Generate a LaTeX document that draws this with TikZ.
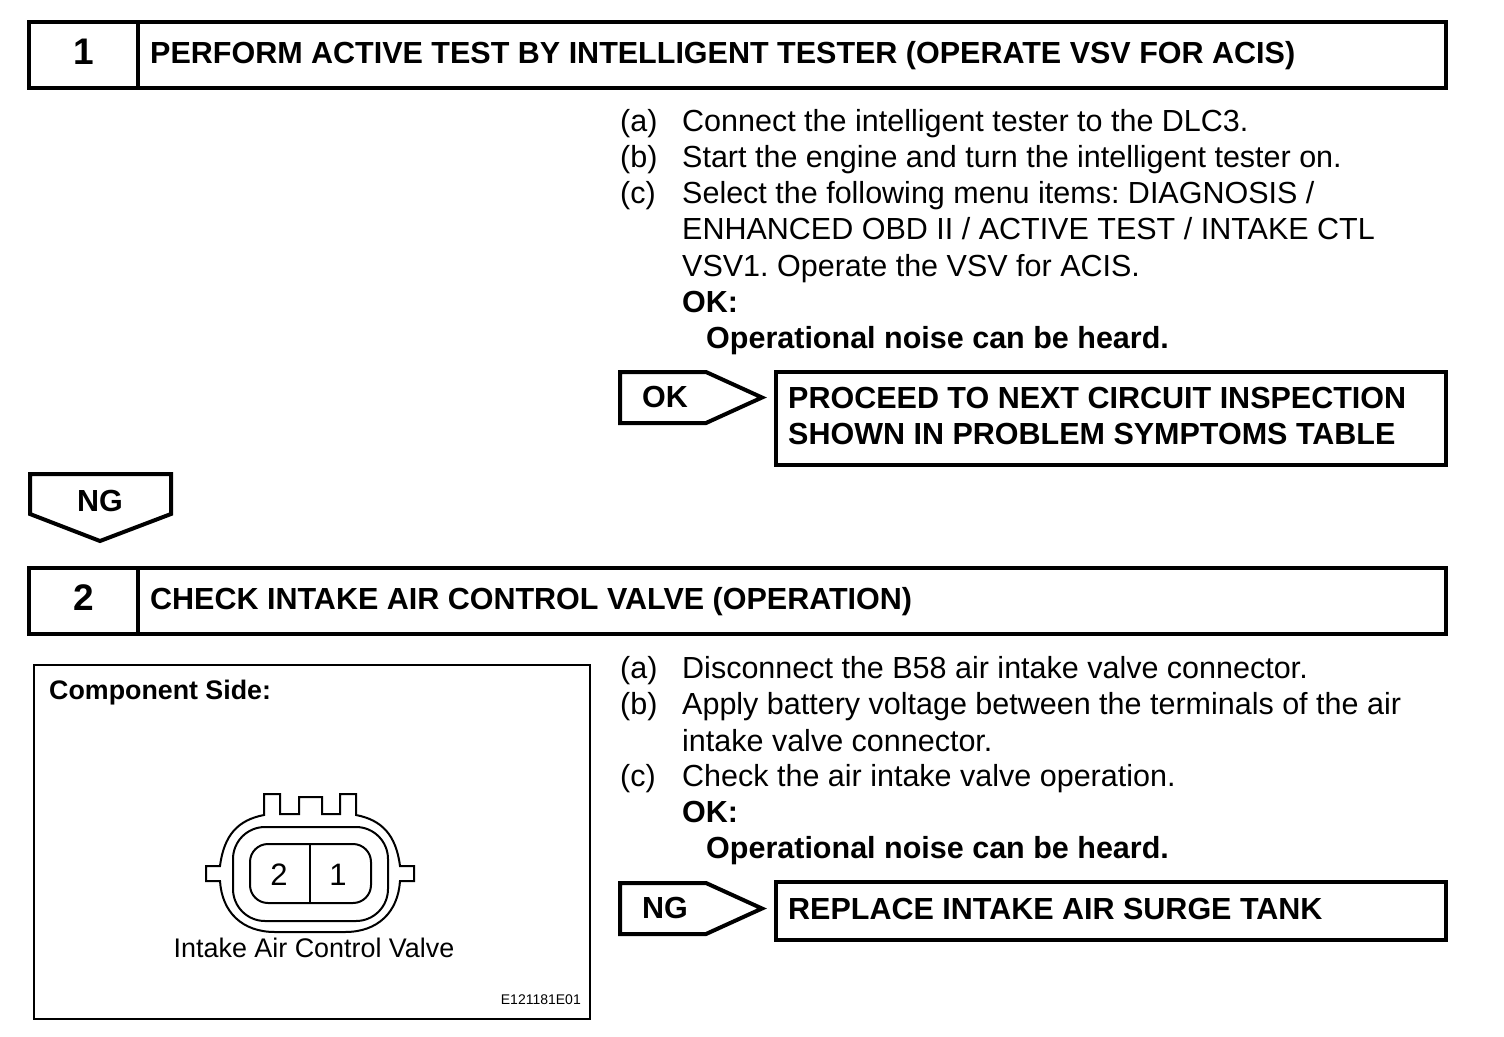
\documentclass[tikz,border=0pt]{standalone}
\usepackage{fontspec}
\setmainfont{Liberation Sans}
\frenchspacing
\usetikzlibrary{positioning,calc}
\begin{document}
\begin{tikzpicture}[x=1pt,y=-1pt,
  hdr/.style={draw,line width=4pt,minimum height=66pt,inner sep=0pt,anchor=north west},
  numtxt/.style={anchor=base,inner sep=0pt,font=\fontsize{37}{40}\selectfont\bfseries},
  headtxt/.style={anchor=base west,inner sep=0pt,align=left,font=\fontsize{30.5}{36}\selectfont\bfseries},
  bodytxt/.style={anchor=base west,inner sep=0pt,font=\fontsize{30.5}{36}\selectfont},
  boldtxt/.style={anchor=base west,inner sep=0pt,font=\fontsize{30.5}{36}\selectfont\bfseries},
  pintxt/.style={anchor=base,inner sep=0pt,font=\fontsize{31}{32}\selectfont},
  tag/.style={line width=4pt,miter limit=10},
  plug/.style={line width=2pt,rounded corners=0pt}
]
  \useasboundingbox (0,0) rectangle (1504,1036);

  % step 1
  \node[hdr,minimum width=109pt] (numA) at (27,20) {};
  \node[hdr,minimum width=1308pt,right=-4pt of numA] (barA) {};
  \node[numtxt] (numAtxt) at (84,64) {1};
  \node[headtxt] (headA) at (150,63) {PERFORM ACTIVE TEST BY INTELLIGENT TESTER (OPERATE VSV FOR ACIS)};

  \node[bodytxt] (a1) at (620,131) {(a)};
  \node[bodytxt] (a1t) at (682,131) {Connect the intelligent tester to the DLC3.};
  \node[bodytxt] (b1) at (620,167) {(b)};
  \node[bodytxt] (b1t) at (682,167) {Start the engine and turn the intelligent tester on.};
  \node[bodytxt] (c1) at (620,203) {(c)};
  \node[bodytxt] (c1t) at (682,203) {Select the following menu items: DIAGNOSIS /};
  \node[bodytxt] (c1u) at (682,239) {ENHANCED OBD II / ACTIVE TEST / INTAKE CTL};
  \node[bodytxt] (c1v) at (682,276) {VSV1. Operate the VSV for ACIS.};
  \node[boldtxt] (okA) at (682,312) {OK:};
  \node[boldtxt] (noiseA) at (706,348) {Operational noise can be heard.};

  \draw[tag] (620,372) -- (706,372) -- (762,397.5) -- (706,423) -- (620,423) -- cycle;
  \node[boldtxt] (okTag) at (642,407) {OK};
  \node[draw,line width=4pt,anchor=north west,minimum width=670pt,minimum height=93pt] (nextA) at (774,370) {};
  \node[headtxt] (nextAtxt) at (788,408) {PROCEED TO NEXT CIRCUIT INSPECTION};
  \node[headtxt] (nextAtxu) at (788,444) {SHOWN IN PROBLEM SYMPTOMS TABLE};

  \draw[tag] (30,474) -- (171,474) -- (171,514) -- (100,541) -- (30,514) -- cycle;
  \node[boldtxt] (ngTag) at (77,511) {NG};

  % step 2
  \node[hdr,minimum width=109pt] (numB) at (27,566) {};
  \node[hdr,minimum width=1308pt,right=-4pt of numB] (barB) {};
  \node[numtxt] (numBtxt) at (84,610) {2};
  \node[headtxt] (headB) at (150,609) {CHECK INTAKE AIR CONTROL VALVE (OPERATION)};

  \node[draw,line width=2pt,anchor=north west,minimum width=556pt,minimum height=354pt] (fig) at (33,664) {};
  \node[anchor=base west,inner sep=0pt,font=\fontsize{26.8}{28}\selectfont\bfseries] (figHead) at (49,699) {Component Side:};

  % connector
  \draw[plug] (264,815) -- (264,794) -- (280,794) -- (280,814) -- (299,814) -- (299,797) -- (322,797)
    -- (322,814) -- (340,814) -- (340,794) -- (356,794) -- (356,815)
    .. controls (382,820) and (396,835) .. (400,866) -- (414,866) -- (414,881) -- (400,881)
    .. controls (398,912) and (378,932) .. (345,932) -- (275,932)
    .. controls (242,932) and (222,912) .. (220,881) -- (206,881) -- (206,866) -- (220,866)
    .. controls (224,835) and (238,820) .. (264,815) -- cycle;
  \draw[plug,rounded corners=32pt] (233,827) rectangle (388,921);
  \draw[plug,rounded corners=18pt] (250,844) rectangle (371,903);
  \coordinate (pinTop) at (310,844);
  \coordinate (pinBot) at (310,903);
  \draw[plug] (pinTop) -- (pinBot);
  \node[pintxt] (pinTwo) at (279,885) {2};
  \node[pintxt] (pinOne) at (338,885) {1};
  \node[anchor=base,inner sep=0pt,font=\fontsize{26.9}{30}\selectfont] (valve) at (314,957) {Intake Air Control Valve};
  \node[anchor=base east,inner sep=0pt,font=\fontsize{14}{16}\selectfont] (code) at (581,1004) {E121181E01};

  \node[bodytxt] (a2) at (620,678) {(a)};
  \node[bodytxt] (a2t) at (682,678) {Disconnect the B58 air intake valve connector.};
  \node[bodytxt] (b2) at (620,714) {(b)};
  \node[bodytxt] (b2t) at (682,714) {Apply battery voltage between the terminals of the air};
  \node[bodytxt] (b2u) at (682,751) {intake valve connector.};
  \node[bodytxt] (c2) at (620,786) {(c)};
  \node[bodytxt] (c2t) at (682,786) {Check the air intake valve operation.};
  \node[boldtxt] (okB) at (682,822) {OK:};
  \node[boldtxt] (noiseB) at (706,858) {Operational noise can be heard.};

  \draw[tag] (620,883) -- (706,883) -- (762,908.5) -- (706,934) -- (620,934) -- cycle;
  \node[boldtxt] (ngTagB) at (642,918) {NG};
  \node[draw,line width=4pt,anchor=north west,minimum width=670pt,minimum height=58pt] (nextB) at (774,880) {};
  \node[headtxt] (nextBtxt) at (788,919) {REPLACE INTAKE AIR SURGE TANK};
\end{tikzpicture}
\end{document}
